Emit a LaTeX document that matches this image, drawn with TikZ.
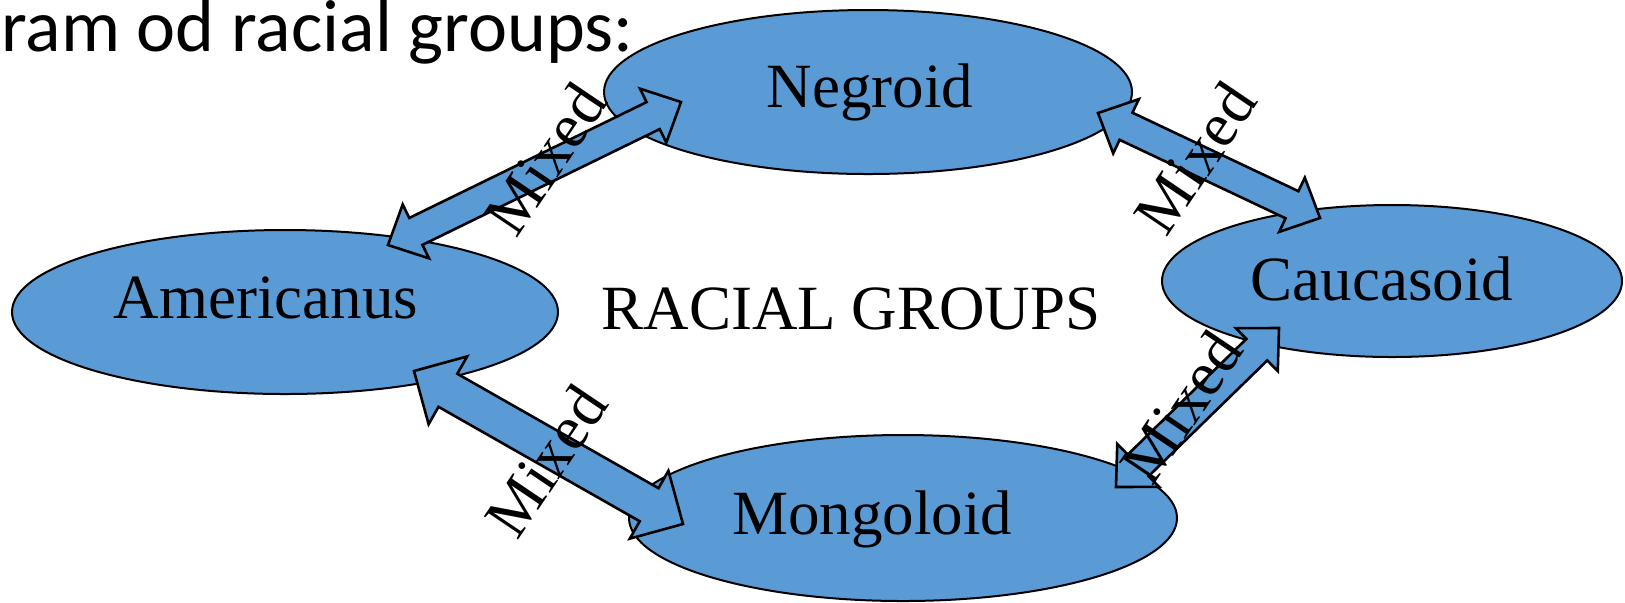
\documentclass[tikz,border=0pt]{standalone}
\usepackage{fontspec}
\setmainfont{Liberation Serif}
\newfontfamily\titlefont{Carlito}
\usetikzlibrary{calc,shapes.geometric}
\definecolor{raceBlue}{HTML}{5B9BD5}

\tikzset{
  race/.style={ellipse, draw=black, fill=raceBlue, line width=1pt, inner sep=0pt},
  racetext/.style={font=\fontsize{31.5}{36}\selectfont, inner sep=0pt, anchor=base},
  mixtext/.style={font=\fontsize{31.5}{36}\selectfont, inner sep=0pt, rotate=56},
  titletext/.style={font=\titlefont\fontsize{37}{42}\selectfont, inner sep=0pt},
  mixsize/.code n args={3}{\def\mixsw{#1}\def\mixhw{#2}\def\mixhl{#3}},
  mixed/.style={draw=black, fill=raceBlue, line width=1.3pt, line join=miter,
    mixsize={7.5pt}{15pt}{15.5pt},
    to path={
      -- ($(\tikztostart)!\mixhl!(\tikztotarget)!\mixhw!90:(\tikztotarget)$)
      -- ($(\tikztostart)!\mixhl!(\tikztotarget)!\mixsw!90:(\tikztotarget)$)
      -- ($(\tikztotarget)!\mixhl!(\tikztostart)!\mixsw!-90:(\tikztostart)$)
      -- ($(\tikztotarget)!\mixhl!(\tikztostart)!\mixhw!-90:(\tikztostart)$)
      -- (\tikztotarget)
      -- ($(\tikztotarget)!\mixhl!(\tikztostart)!\mixhw!90:(\tikztostart)$)
      -- ($(\tikztotarget)!\mixhl!(\tikztostart)!\mixsw!90:(\tikztostart)$)
      -- ($(\tikztostart)!\mixhl!(\tikztotarget)!\mixsw!-90:(\tikztotarget)$)
      -- ($(\tikztostart)!\mixhl!(\tikztotarget)!\mixhw!-90:(\tikztotarget)$)
      -- cycle}}
}

\begin{document}
\begin{tikzpicture}[x=0.5pt, y=-0.5pt]
  \useasboundingbox (0,0) rectangle (1625,602);
  \node[titletext, anchor=base west] (title) at (1,51) {ram od racial groups:};

  % the four groups
  \node[race, minimum width=264pt, minimum height=82pt] (negroid) at (868,92) {};
  \node[race, minimum width=273pt, minimum height=82pt] (americanus) at (285,312) {};
  \node[race, minimum width=230pt, minimum height=76pt] (caucasoid) at (1392,281) {};
  \node[race, minimum width=274pt, minimum height=83pt] (mongoloid) at (903,518) {};

  % arrow tips
  \coordinate (amerN) at (388,245);
  \coordinate (negrW) at (681,102);
  \coordinate (negrE) at (1098,113);
  \coordinate (caucN) at (1320,218);
  \coordinate (amerS) at (414,371);
  \coordinate (mongW) at (683,524);
  \coordinate (mongE) at (1116,487);
  \coordinate (caucS) at (1279,328);

  \draw[mixed] (amerN) to (negrW);
  \draw[mixed] (negrE) to (caucN);
  \draw[mixed, mixsize={9.5pt}{19.5pt}{19.5pt}] (amerS) to (mongW);
  \draw[mixed] (mongE) to (caucS);

  % labels
  \node[racetext] (negroidLbl) at (870,107) {Negroid};
  \node[racetext] (americanusLbl) at (266,318) {Americanus};
  \node[racetext] (caucasoidLbl) at (1382,300) {Caucasoid};
  \node[racetext] (mongoloidLbl) at (872,534) {Mongoloid};
  \node[racetext] (centerLbl) at (851,329) {RACIAL GROUPS};

  \node[mixtext] (mixA) at (545,159) {Mixed};
  \node[mixtext] (mixB) at (1195,158) {Mixed};
  \node[mixtext] (mixC) at (546,461) {Mixed};
  \node[mixtext] (mixD) at (1181,407) {Mixed};
\end{tikzpicture}
\end{document}
